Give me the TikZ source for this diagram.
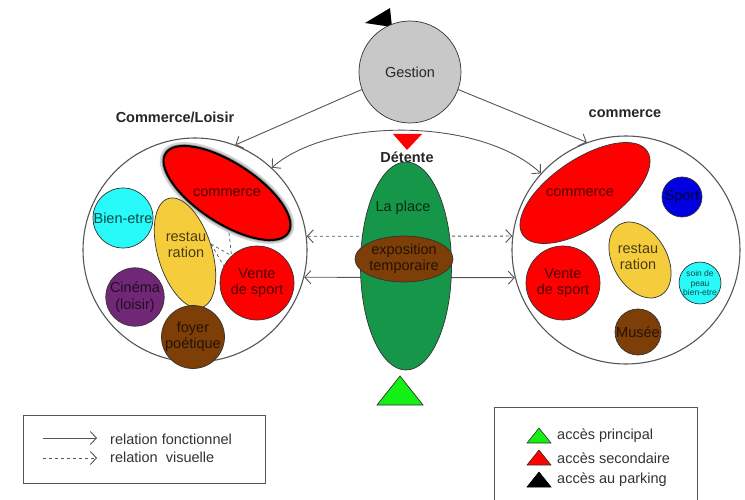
\documentclass[tikz,border=0pt]{standalone}
\usepackage{fontspec}
\setmainfont{Liberation Sans}
\usetikzlibrary{shapes.geometric,arrows.meta}
\definecolor{cred}{RGB}{255,0,0}
\definecolor{ccyan}{RGB}{40,250,250}
\definecolor{cyel}{RGB}{245,205,60}
\definecolor{cpurp}{RGB}{112,40,118}
\definecolor{cbrown}{RGB}{125,62,8}
\definecolor{cblue}{RGB}{0,0,225}
\definecolor{cgreen}{RGB}{22,150,72}
\definecolor{cgray}{RGB}{200,200,200}
\definecolor{clime}{RGB}{20,240,20}
\definecolor{cline}{RGB}{85,85,85}
\begin{document}
\begin{tikzpicture}[x=1pt,y=-1pt,
  lab/.style={font=\fontsize{14.5}{16.5}\selectfont, align=center, text opacity=0.7},
  ttl/.style={font=\fontsize{14.5}{16.5}\selectfont\bfseries, text=black!85},
  ring/.style={circle, draw=cline, line width=1.1pt, inner sep=0pt},
  blob/.style={circle, draw=black!80, line width=0.7pt, inner sep=0pt, lab},
  oval/.style={ellipse, draw=black!80, line width=0.7pt, inner sep=0pt},
  tip/.tip={Straight Barb[length=6pt,width=13pt]},
  conn/.style={draw=cline, line width=0.9pt},
  legtxt/.style={font=\fontsize{14.5}{16.5}\selectfont, text=black!80, anchor=west, inner sep=0pt},
  legbox/.style={draw=cline, line width=1pt}
]
\useasboundingbox (0,0) rectangle (745,500);

% big circles and titles
\node[ring, minimum size=224] (leftC) at (195,250) {};
\node[ring, minimum size=228] (rightC) at (626,250) {};
\node[ttl] (tleft) at (175,117) {Commerce/Loisir};
\node[ttl] (tright) at (625,114) {commerce};

% Gestion
\fill[black] (365,23) -- (390,8) -- (392,27) -- cycle;
\node[blob, fill=cgray, minimum size=102, text opacity=0.8] (gest) at (410,72) {Gestion};

% left circle contents
\node[oval, fill=black, draw=black!50, line width=4pt, opacity=0.35, minimum width=150, minimum height=64, rotate=-33] (lcomsh) at (227,193) {};
\node[oval, fill=cred, draw=black, line width=2pt, minimum width=146, minimum height=60, rotate=-33] (lcom) at (227,193) {};
\node[lab] (lcomt) at (227,193) {commerce};
\node[blob, fill=ccyan, minimum size=60] (lbien) at (123,218) {Bien-etre};
\node[oval, fill=cyel, minimum width=114, minimum height=54, rotate=-73] (lres) at (185,253) {};
\node[lab] (lrest) at (186,245) {restau\\ration};
\node[blob, fill=cred, minimum size=74] (lven) at (257,283) {Vente\\de sport};
\node[blob, fill=cpurp, minimum size=58] (lcin) at (135,297) {Cinéma\\(loisir)};
\node[blob, fill=cbrown, minimum size=46] (lfoy) at (193,337) {foyer\\poétique};
\coordinate (d1) at (229,233);
\coordinate (d2) at (211,244);
\draw[cline, dashed, line width=0.7pt] (d2) -- (lven.153);
\draw[cline, dashed, line width=0.7pt] (d1) -- (lven.133);
\draw[cline, dashed, line width=0.7pt] (d2) -- (lven.133);

% right circle contents
\node[oval, fill=cred, minimum width=150, minimum height=68, rotate=34] (rcom) at (585,193) {};
\node[lab] (rcomt) at (580,193) {commerce};
\node[blob, fill=cblue, minimum size=40] (rsport) at (682,197) {Sport};
\node[oval, fill=cyel, minimum width=82, minimum height=54, rotate=-60] (rres) at (640,260) {};
\node[lab] (rrest) at (638,257) {restau\\ration};
\node[blob, fill=cred, minimum size=74] (rven) at (563,283) {Vente\\de sport};
\node[blob, fill=ccyan, minimum size=40, font=\fontsize{8.5}{9.5}\selectfont] (rsoin) at (700,283) {soin de\\peau\\bien-etre};
\node[blob, fill=cbrown, minimum size=46] (rmus) at (638,332) {Musée};

% connectors
\draw[conn, -tip] (gest.200) -- (leftC.69);
\draw[conn, -tip] (gest.340) -- (rightC.110);
\draw[conn, tip-tip] (leftC.47) .. controls (330,117) and (480,117) .. (rightC.138);
\draw[conn, dashed, tip-tip] (leftC.7) -- (rightC.173);
\draw[conn, tip-tip] (leftC.-14) -- (rightC.194);

% center
\node[oval, fill=cgreen, minimum width=91, minimum height=208] (place) at (406,266) {};
\node[lab] (placet) at (403,208) {La place};
\node[oval, fill=cbrown, minimum width=80, minimum height=46, lab] (expo) at (404,259) {exposition\\temporaire};
\fill[cred] (393,134) -- (422,134) -- (407,150) -- cycle;
\node[ttl] (det) at (407,157) {Détente};
\draw[black!80, line width=0.7pt, fill=clime] (377,405) -- (423,405) -- (400,376) -- cycle;

% legend left
\node[legbox, minimum width=242, minimum height=68, inner sep=0pt] (leg1) at (144,449) {};
\coordinate (a1s) at (43,438);
\coordinate (a1e) at (97,438);
\coordinate (a2s) at (43,458);
\coordinate (a2e) at (97,458);
\draw[conn, -tip] (a1s) -- (a1e);
\draw[conn, dashed, -tip] (a2s) -- (a2e);
\node[legtxt] (l1) at (110,439) {relation fonctionnel};
\node[legtxt] (l2) at (110,457) {relation\ \ visuelle};

% legend right
\draw[legbox] (494,512) -- (494,407) -- (697,407) -- (697,512);
\draw[black!80, line width=0.6pt, fill=clime] (527,443) -- (551,443) -- (539,428) -- cycle;
\draw[black!80, line width=0.6pt, fill=cred] (527,465) -- (551,465) -- (539,450) -- cycle;
\draw[black, line width=0.6pt, fill=black] (527,487) -- (551,487) -- (539,472) -- cycle;
\node[legtxt] (r1) at (557,436) {accès principal};
\node[legtxt] (r2) at (557,458) {accès secondaire};
\node[legtxt] (r3) at (557,480) {accès au parking};
\end{tikzpicture}
\end{document}
